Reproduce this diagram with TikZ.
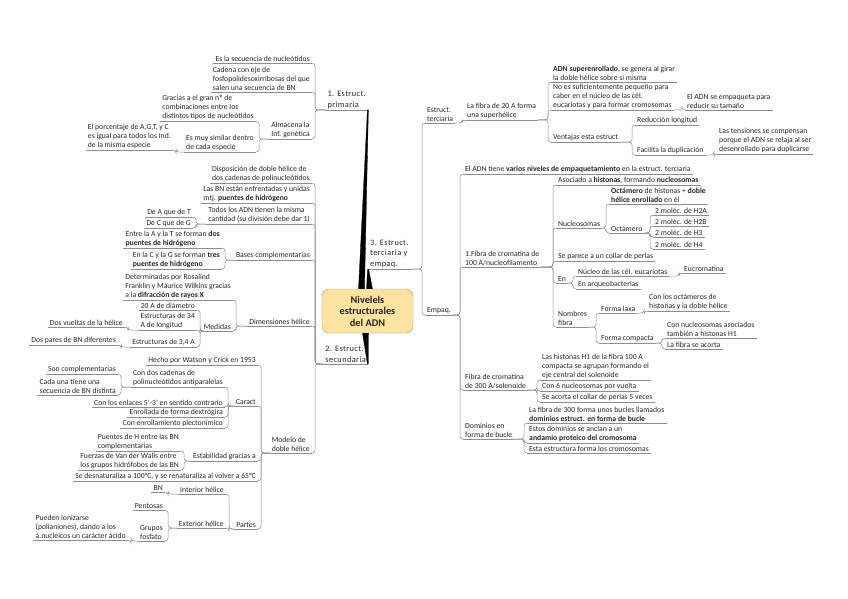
\documentclass[tikz,border=0pt]{standalone}
\usepackage{fontspec}
\setmainfont{Carlito}
\newfontfamily\brfont{Carlito}[LetterSpace=5]
\usetikzlibrary{positioning}
\definecolor{ctrfill}{HTML}{FDE3A0}
\definecolor{ctrline}{HTML}{A8957A}
\definecolor{lnk}{HTML}{8E8E8E}
\definecolor{txt}{HTML}{262626}

\begin{document}
\begin{tikzpicture}[x=1pt, y=-1pt,
    font=\fontsize{7.7}{8.9}\selectfont,
    topic/.style={inner xsep=2pt, inner ysep=1.2pt, align=left, text=txt,
      append after command={(\tikzlastnode.south west) edge[draw=lnk, line width=.5pt] (\tikzlastnode.south east)}},
    lt/.style={topic, anchor=south east},
    rt/.style={topic, anchor=south west},
    mainl/.style={lt, font=\fontsize{8.3}{10.6}\brfont},
    mainr/.style={rt, font=\fontsize{8.3}{10.6}\brfont},
    ctr/.style={draw=ctrline, fill=ctrfill, rounded corners=7pt, align=center,
      minimum width=91pt, minimum height=44pt, text=black!85,
      font=\fontsize{10.3}{11.5}\selectfont\bfseries},
    cn/.style={draw=lnk, line width=.5pt, rounded corners=3pt},
    thickbr/.style={fill=black, draw=black, line width=.3pt}]

  \fill[white] (0,0) rectangle (848,599);
  \useasboundingbox (0,0) rectangle (848,599);

  % ---- centre and main branches ------------------------------------------
  \node[ctr] (adn) at (367.5,311) {Nivelels\\ estructurales\\ del ADN};
  \node[mainl] (prim) at (368,110) {1. Estruct.\\ primaria};
  \node[mainr] (terc) at (368,269) {3. Estruct.\\ terciaria y\\ empaq.};
  \node[mainl] (secu) at (368,364) {2. Estruct.\\ secundaria};
  \path[thickbr] ([xshift=-9pt]adn.north) -- ([xshift=-.6pt]prim.south east)
      -- ([xshift=.4pt]prim.south east) -- ([xshift=-3pt]adn.north) -- cycle;
  \path[thickbr] ([xshift=-1pt]adn.north) -- ([xshift=-.4pt]terc.south west)
      -- ([xshift=.6pt]terc.south west) -- ([xshift=5pt]adn.north) -- cycle;
  \path[thickbr] ([xshift=-5pt]adn.south) -- ([xshift=-.6pt]secu.south east)
      -- ([xshift=.4pt]secu.south east) -- ([xshift=1pt]adn.south) -- cycle;

  % ---- 1. estructura primaria ---------------------------------------------
  \node[lt] (secnuc)  at (312,63)  {Es la secuencia de nucleótidos};
  \node[lt] (cadena)  at (312,92)  {Cadena con eje de\\ fosfopolidesoxirribosas del que\\ salen una secuencia de BN};
  \node[lt] (almac)   at (312,139) {Almacena la\\ Inf. genética};
  \node[lt] (gracias) at (256,121) {Gracias a el gran nº de\\ combinaciones entre los\\ distintos tipos de nucleótidos};
  \node[lt] (similar) at (256,152) {Es muy similar dentro\\ de cada especie};
  \node[lt] (porcent) at (173,150) {El porcentaje de A,G,T, y C\\ es igual para todos los Ind.\\ de la misma especie};
  \draw[cn] (secnuc.south east) -- ++(3pt,0) |- (prim.south west);
  \draw[cn] (cadena.south east) -- ++(3pt,0) |- (prim.south west);
  \draw[cn] (almac.south east) -- ++(3pt,0) |- (prim.south west);
  \draw[cn] (gracias.south east) -- ++(3pt,0) |- (almac.south west);
  \draw[cn] (similar.south east) -- ++(3pt,0) |- (almac.south west);
  \draw[cn] (porcent.south east) -- ++(3pt,0) |- (similar.south west);

  % ---- 2. estructura secundaria -------------------------------------------
  \node[lt] (dispos)  at (312,183) {Disposición de doble hélice de\\ dos cadenas de polinucleótidos};
  \node[lt] (enfrent) at (312,203) {Las BN están enfrentadas y unidas\\ mtj. \textbf{puentes de hidrógeno}};
  \node[lt] (cantid)  at (312,224) {Todos los ADN tienen la misma\\ cantidad (su división debe dar 1)};
  \node[lt] (aT)      at (193,217) {De A que de T};
  \node[lt] (cG)      at (193,228) {De C que de G};
  \node[lt] (bases)   at (312,260) {Bases complementarias};
  \node[lt] (dosph)   at (222,248) {Entre la A y la T se forman \textbf{dos}\\ \textbf{puentes de hidrógeno}};
  \node[lt] (tresph)  at (222,269) {En la C y la G se forman \textbf{tres}\\ \textbf{puentes de hidrógeno}};
  \node[lt] (dimens)  at (312,326) {Dimensiones hélice};
  \node[lt] (rosal)   at (233,300) {Determinadas por Rosalind\\ Franklin y Maurice Wilkins gracias\\ a la \textbf{difracción de rayos X}};
  \node[lt] (medidas) at (233,331) {Medidas};
  \node[lt] (diam)    at (197,310) {20 A de diámetro};
  \node[lt] (e34)     at (197,330) {Estructuras de 34\\ A de longitud};
  \node[lt] (vueltas) at (125,327) {Dos vueltas de la hélice};
  \node[lt] (e34A)    at (197,347) {Estructuras de 3,4 A};
  \node[lt] (pares)   at (118,345) {Dos pares de BN diferentes};
  \draw[cn] (dispos.south east) -- ++(3pt,0) |- (secu.south west);
  \draw[cn] (enfrent.south east) -- ++(3pt,0) |- (secu.south west);
  \draw[cn] (cantid.south east) -- ++(3pt,0) |- (secu.south west);
  \draw[cn] (bases.south east) -- ++(3pt,0) |- (secu.south west);
  \draw[cn] (dimens.south east) -- ++(3pt,0) |- (secu.south west);
  \draw[cn] (aT.south east) -- ++(3pt,0) |- (cantid.south west);
  \draw[cn] (cG.south east) -- ++(3pt,0) |- (cantid.south west);
  \draw[cn] (dosph.south east) -- ++(3pt,0) |- (bases.south west);
  \draw[cn] (tresph.south east) -- ++(3pt,0) |- (bases.south west);
  \draw[cn] (rosal.south east) -- ++(3pt,0) |- (dimens.south west);
  \draw[cn] (medidas.south east) -- ++(3pt,0) |- (dimens.south west);
  \draw[cn] (diam.south east) -- ++(3pt,0) |- (medidas.south west);
  \draw[cn] (e34.south east) -- ++(3pt,0) |- (medidas.south west);
  \draw[cn] (e34A.south east) -- ++(3pt,0) |- (medidas.south west);
  \draw[cn] (vueltas.south east) -- ++(3pt,0) |- (e34.south west);
  \draw[cn] (pares.south east) -- ++(3pt,0) |- (e34A.south west);

  % modelo de doble helice
  \node[lt] (modelo)   at (312,453) {Modelo de\\ doble hélice};
  \node[lt] (watson)   at (258,365) {Hecho por Watson y Crick en 1953};
  \node[lt] (caract)   at (258,406) {Caract};
  \node[lt] (dosc)     at (225,387) {Con dos cadenas de\\ polinucleótidos antiparalelas};
  \node[lt] (compl)    at (118,374) {Son complementarias};
  \node[lt] (distinta) at (118,395) {Cada una tiene una\\ secuencia de BN distinta};
  \node[lt] (enlaces)  at (225,407) {Con los enlaces 5'-3' en sentido contrario};
  \node[lt] (dextro)   at (225,417) {Enrollada de forma dextrógira};
  \node[lt] (plecto)   at (225,428) {Con enrollamiento plectonímico};
  \node[lt] (estab)    at (258,461) {Estabilidad gracias a};
  \node[lt] (puenH)    at (181,451) {Puentes de H entre las BN\\ complementarias};
  \node[lt] (vdw)      at (181,470) {Fuerzas de Van der Walls entre\\ los grupos hidrófobos de las BN};
  \node[lt] (desnat)   at (258,481) {Se desnaturaliza a 100°C, y se renaturaliza al volver a 65°C};
  \node[lt] (partes)   at (258,529) {Partes};
  \node[lt] (inter)    at (226,494) {Interior hélice};
  \node[lt] (bn)       at (165,492) {BN};
  \node[lt] (exter)    at (226,528) {Exterior hélice};
  \node[lt] (pentosa)  at (165,510) {Pentosas};
  \node[lt] (fosfato)  at (165,541) {Grupos\\ fosfato};
  \node[lt] (ioniz)    at (128,540) {Pueden ionizarse\\ (polianiones), dando a los\\ á.nucleicos un carácter ácido};
  \draw[cn] (modelo.south east) -- ++(3pt,0) |- (secu.south west);
  \draw[cn] (watson.south east) -- ++(3pt,0) |- (modelo.south west);
  \draw[cn] (caract.south east) -- ++(3pt,0) |- (modelo.south west);
  \draw[cn] (estab.south east) -- ++(3pt,0) |- (modelo.south west);
  \draw[cn] (desnat.south east) -- ++(3pt,0) |- (modelo.south west);
  \draw[cn] (partes.south east) -- ++(3pt,0) |- (modelo.south west);
  \draw[cn] (dosc.south east) -- ++(3pt,0) |- (caract.south west);
  \draw[cn] (enlaces.south east) -- ++(3pt,0) |- (caract.south west);
  \draw[cn] (dextro.south east) -- ++(3pt,0) |- (caract.south west);
  \draw[cn] (plecto.south east) -- ++(3pt,0) |- (caract.south west);
  \draw[cn] (compl.south east) -- ++(3pt,0) |- (dosc.south west);
  \draw[cn] (distinta.south east) -- ++(3pt,0) |- (dosc.south west);
  \draw[cn] (puenH.south east) -- ++(3pt,0) |- (estab.south west);
  \draw[cn] (vdw.south east) -- ++(3pt,0) |- (estab.south west);
  \draw[cn] (inter.south east) -- ++(3pt,0) |- (partes.south west);
  \draw[cn] (exter.south east) -- ++(3pt,0) |- (partes.south west);
  \draw[cn] (bn.south east) -- ++(3pt,0) |- (inter.south west);
  \draw[cn] (pentosa.south east) -- ++(3pt,0) |- (exter.south west);
  \draw[cn] (fosfato.south east) -- ++(3pt,0) |- (exter.south west);
  \draw[cn] (ioniz.south east) -- ++(3pt,0) |- (fosfato.south west);

  % ---- 3. estructura terciaria y empaquetamiento --------------------------
  \node[rt] (estter)  at (425,123) {Estruct.\\ terciaria};
  \node[rt] (fibra20) at (465,120) {La fibra de 20 A forma\\ una superhélice};
  \node[rt] (superen) at (551,82)  {\textbf{ADN superenrollado}, se genera al girar\\ la doble hélice sobre si misma};
  \node[rt] (nosuf)   at (551,110) {No es suficientemente pequeño para\\ caber en el núcleo de las cél.\\ eucariotas y para formar cromosomas};
  \node[rt] (reduce)  at (685,110) {El ADN se empaqueta para\\ reducir su tamaño};
  \node[rt] (ventaj)  at (551,142) {Ventajas esta estruct};
  \node[rt] (redlong) at (635,125) {Reducción longitud};
  \node[rt] (facdup)  at (635,155) {Facilita la duplicación};
  \node[rt] (tension) at (717,154) {Las tensiones se compensan\\ porque el ADN se relaja al ser\\ desenrollado para duplicarse};
  \draw[cn] (estter.south west) -- ++(-3pt,0) |- (terc.south east);
  \draw[cn] (fibra20.south west) -- ++(-3pt,0) |- (estter.south east);
  \draw[cn] (superen.south west) -- ++(-3pt,0) |- (fibra20.south east);
  \draw[cn] (nosuf.south west) -- ++(-3pt,0) |- (fibra20.south east);
  \draw[cn] (ventaj.south west) -- ++(-3pt,0) |- (fibra20.south east);
  \draw[cn] (reduce.south west) -- ++(-3pt,0) |- (nosuf.south east);
  \draw[cn] (redlong.south west) -- ++(-3pt,0) |- (ventaj.south east);
  \draw[cn] (facdup.south west) -- ++(-3pt,0) |- (ventaj.south east);
  \draw[cn] (tension.south west) -- ++(-3pt,0) |- (facdup.south east);

  % empaquetamiento
  \node[rt] (empaq)   at (425,315) {Empaq.};
  \node[rt] (niveles) at (463,174) {El ADN tiene \textbf{varios niveles de empaquetamiento} en la estruct. terciaria};
  \node[rt] (fib100)  at (463,267) {1.Fibra de cromatina de\\ 100 A/nucleofilamento};
  \node[rt] (asoc)    at (556,185) {Asociado a \textbf{histonas}, formando \textbf{nucleosomas}};
  \node[rt] (nucleo)  at (556,228) {Nucleosomas};
  \node[rt] (octdef)  at (609,204) {\textbf{Octámero} de histonas + \textbf{doble}\\ \textbf{hélice enrollado} en él};
  \node[rt] (octam)   at (609,233) {Octámero};
  \node[rt] (hA)      at (653,215) {2 moléc. de H2A};
  \node[rt] (hB)      at (653,226) {2 moléc. de H2B};
  \node[rt] (hC)      at (653,237) {2 moléc. de H3};
  \node[rt] (hD)      at (653,249) {2 moléc. de H4};
  \node[rt] (collar)  at (556,261) {Se parece a un collar de perlas};
  \node[rt] (en)      at (556,283) {En};
  \node[rt] (eucar)   at (576,276) {Núcleo de las cél. eucariotas};
  \node[rt] (eucrom)  at (682,273) {Eucromatina};
  \node[rt] (arqueo)  at (576,289) {En arqueobacterias};
  \node[rt] (nombres) at (556,327) {Nombres\\ fibra};
  \node[rt] (laxa)    at (599,313) {Forma laxa};
  \node[rt] (conoct)  at (647,311) {Con los octámeros de\\ histonas y la doble hélice};
  \node[rt] (compac)  at (599,343) {Forma compacta};
  \node[rt] (connuc)  at (665,338) {Con nucleosomas asociados\\ también a histonas H1};
  \node[rt] (acorta)  at (665,349) {La fibra se acorta};
  \node[rt] (fib300)  at (463,390) {Fibra de cromatina\\ de 300 A/solenoide};
  \node[rt] (ejeh1)   at (540,380) {Las histonas H1 de la fibra 100 A\\ compacta se agrupan formando el\\ eje central del solenoide};
  \node[rt] (seisnuc) at (540,391) {Con 6 nucleosomas por vuelta};
  \node[rt] (cincov)  at (540,402) {Se acorta el collar de perlas 5 veces};
  \node[rt] (domin)   at (463,439) {Dominios en\\ forma de bucle};
  \node[rt] (bucles)  at (527,423) {La fibra de 300 forma unos bucles llamados\\ \textbf{dominios estruct. en forma de bucle}};
  \node[rt] (andamio) at (527,443) {Estos dominios se anclan a un\\ \textbf{andamio proteico del cromosoma}};
  \node[rt] (cromos)  at (527,453) {Esta estructura forma los cromosomas};
  \draw[cn] (empaq.south west) -- ++(-3pt,0) |- (terc.south east);
  \draw[cn] (niveles.south west) -- ++(-3pt,0) |- (empaq.south east);
  \draw[cn] (fib100.south west) -- ++(-3pt,0) |- (empaq.south east);
  \draw[cn] (fib300.south west) -- ++(-3pt,0) |- (empaq.south east);
  \draw[cn] (domin.south west) -- ++(-3pt,0) |- (empaq.south east);
  \draw[cn] (asoc.south west) -- ++(-3pt,0) |- (fib100.south east);
  \draw[cn] (nucleo.south west) -- ++(-3pt,0) |- (fib100.south east);
  \draw[cn] (collar.south west) -- ++(-3pt,0) |- (fib100.south east);
  \draw[cn] (en.south west) -- ++(-3pt,0) |- (fib100.south east);
  \draw[cn] (nombres.south west) -- ++(-3pt,0) |- (fib100.south east);
  \draw[cn] (octdef.south west) -- ++(-3pt,0) |- (nucleo.south east);
  \draw[cn] (octam.south west) -- ++(-3pt,0) |- (nucleo.south east);
  \draw[cn] (hA.south west) -- ++(-3pt,0) |- (octam.south east);
  \draw[cn] (hB.south west) -- ++(-3pt,0) |- (octam.south east);
  \draw[cn] (hC.south west) -- ++(-3pt,0) |- (octam.south east);
  \draw[cn] (hD.south west) -- ++(-3pt,0) |- (octam.south east);
  \draw[cn] (eucar.south west) -- ++(-3pt,0) |- (en.south east);
  \draw[cn] (arqueo.south west) -- ++(-3pt,0) |- (en.south east);
  \draw[cn] (eucrom.south west) -- ++(-3pt,0) |- (eucar.south east);
  \draw[cn] (laxa.south west) -- ++(-3pt,0) |- (nombres.south east);
  \draw[cn] (compac.south west) -- ++(-3pt,0) |- (nombres.south east);
  \draw[cn] (conoct.south west) -- ++(-3pt,0) |- (laxa.south east);
  \draw[cn] (connuc.south west) -- ++(-3pt,0) |- (compac.south east);
  \draw[cn] (acorta.south west) -- ++(-3pt,0) |- (compac.south east);
  \draw[cn] (ejeh1.south west) -- ++(-3pt,0) |- (fib300.south east);
  \draw[cn] (seisnuc.south west) -- ++(-3pt,0) |- (fib300.south east);
  \draw[cn] (cincov.south west) -- ++(-3pt,0) |- (fib300.south east);
  \draw[cn] (bucles.south west) -- ++(-3pt,0) |- (domin.south east);
  \draw[cn] (andamio.south west) -- ++(-3pt,0) |- (domin.south east);
  \draw[cn] (cromos.south west) -- ++(-3pt,0) |- (domin.south east);
\end{tikzpicture}
\end{document}
